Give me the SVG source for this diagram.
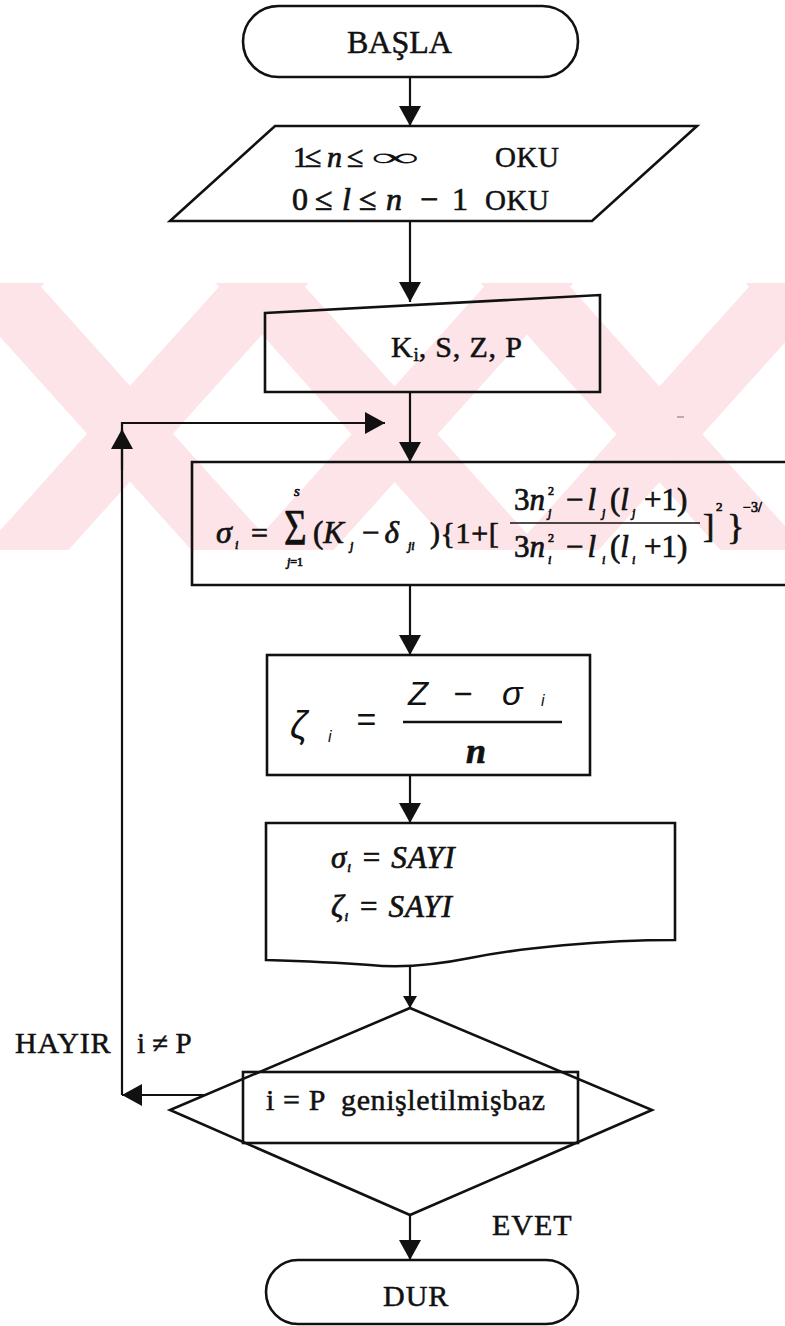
<svg xmlns="http://www.w3.org/2000/svg" width="785" height="1326" viewBox="0 0 785 1326">
<style>
.bg{fill:#ffffff}
.wm{stroke:#fde4e8;stroke-width:64;fill:none}
.shape{fill:none;stroke:#111;stroke-width:2.6;stroke-linejoin:miter}
.conn{fill:none;stroke:#111;stroke-width:2.2}
.t{font-family:"Liberation Serif","Times New Roman",serif;fill:#111;stroke:#111;stroke-width:0.5}
.m{font-family:"Liberation Serif","Times New Roman",serif;fill:#111;stroke:#111;stroke-width:0.7}
.it{font-style:italic}
.sans{font-family:"Liberation Sans",Arial,sans-serif;font-style:italic;fill:#111}
</style>
<defs>
<marker id="ah" viewBox="0 0 20 22" refX="20" refY="11" markerWidth="20" markerHeight="22" markerUnits="userSpaceOnUse" orient="auto">
<path d="M0,0 L20,11 L0,22 z" fill="#111"/>
</marker>
<marker id="ahs" viewBox="0 0 12 14" refX="12" refY="7" markerWidth="12" markerHeight="14" markerUnits="userSpaceOnUse" orient="auto">
<path d="M0,0 L12,7 L0,14 z" fill="#111"/>
</marker>
<clipPath id="wmclip"><rect x="0" y="283" width="785" height="267"/></clipPath>
</defs>
<rect class="bg" x="0" y="0" width="785" height="1326"/>
<g id="watermark" clip-path="url(#wmclip)">
<path class="wm" d="M-300,250 L-0,584 M-35,250 L265,584 M229,250 L529,584 M494,250 L794,584 M759,250 L1059,584"/>
<path class="wm" d="M31,250 L-269,584 M295,250 L-5,584 M560,250 L260,584 M825,250 L525,584 M1090,250 L790,584"/>
</g>
<g id="connectors">
<path class="conn" d="M410,77 V126" marker-end="url(#ah)"/>
<path class="conn" d="M410,221 V302" marker-end="url(#ah)"/>
<path class="conn" d="M410,392 V462" marker-end="url(#ah)"/>
<path class="conn" d="M410,585 V655" marker-end="url(#ah)"/>
<path class="conn" d="M410,775 V823" marker-end="url(#ah)"/>
<path class="conn" d="M410,966 V1008" marker-end="url(#ahs)"/>
<path class="conn" d="M410,1215 V1260" marker-end="url(#ah)"/>
<path class="conn" d="M205,1095 H122" marker-end="url(#ah)"/>
<path class="conn" d="M122,1095 V423 H385" marker-end="url(#ah)"/>
<path class="conn" d="M122,470 V429" marker-end="url(#ah)"/>
</g>
<g id="start">
<rect class="shape" x="243" y="6" width="335" height="71" rx="35.5" ry="35.5"/>
<text class="t" x="347" y="53" font-size="32">BAŞLA</text>
</g>
<g id="input">
<path class="shape" d="M275,126 L697,126 L592,221 L170,221 Z"/>
<text class="m" x="293 305 327 347" y="167" font-size="30">1≤<tspan class="it">n</tspan>≤</text>
<text x="371" y="166" font-size="26" textLength="48" lengthAdjust="spacingAndGlyphs" font-family="Liberation Serif, serif" fill="#111">∞</text>
<text class="t" x="495" y="167" font-size="29" letter-spacing="0.5">OKU</text>
<text class="m" x="292 315 342 359 386 420 452" y="210" font-size="32">0≤<tspan class="it">l</tspan>≤<tspan class="it">n</tspan>−1</text>
<text class="t" x="485" y="210" font-size="29" letter-spacing="0.5">OKU</text>
</g>
<g id="manual-input">
<path class="shape" d="M265,313 L600,295 L600,392 L265,392 Z"/>
<text class="t" x="391" y="357" font-size="30" letter-spacing="0.8">K<tspan font-size="19" dy="4" letter-spacing="0">i</tspan><tspan dy="-4">, S, Z, P</tspan></text>
</g>
<g id="sigma-formula">
<path class="shape" d="M800,462 H192 V585 H800"/>
<text class="m it" x="216" y="543" font-size="32">σ</text>
<text class="m it" x="235" y="549" font-size="12">i</text>
<text class="m" x="251" y="543" font-size="30">=</text>
<text class="m" transform="translate(284,544) scale(0.78,1)" font-size="50" stroke-width="0.4">Σ</text>
<text class="m it" x="294" y="496" font-size="15">s</text>
<text class="m" x="287" y="566" font-size="12"><tspan class="it">j</tspan>=1</text>
<text class="m" x="313" y="543" font-size="31">(<tspan class="it">K</tspan></text>
<text class="m it" x="350" y="550" font-size="12">j</text>
<text class="m" x="362" y="543" font-size="31">−<tspan class="it" dx="5">δ</tspan></text>
<text class="m it" x="408" y="550" font-size="12">ji</text>
<text class="m" x="430" y="543" font-size="30" letter-spacing="0.6">){1+[</text>
<text class="m" x="514" y="510" font-size="31">3<tspan class="it">n</tspan></text>
<text class="m" x="548" y="495" font-size="12">2</text>
<text class="m it" x="548" y="517" font-size="12">j</text>
<text class="m" x="566" y="510" font-size="31">−<tspan class="it" dx="4">l</tspan></text>
<text class="m it" x="602" y="517" font-size="12">j</text>
<text class="m" x="610" y="510" font-size="31">(<tspan class="it">l</tspan></text>
<text class="m it" x="632" y="517" font-size="12">j</text>
<text class="m" x="644" y="510" font-size="31">+1)</text>
<path d="M510,523 H700" stroke="#111" stroke-width="1.6"/>
<text class="m" x="514" y="557" font-size="31">3<tspan class="it">n</tspan></text>
<text class="m" x="548" y="542" font-size="12">2</text>
<text class="m it" x="548" y="564" font-size="12">i</text>
<text class="m" x="566" y="557" font-size="31">−<tspan class="it" dx="4">l</tspan></text>
<text class="m it" x="602" y="564" font-size="12">i</text>
<text class="m" x="610" y="557" font-size="31">(<tspan class="it">l</tspan></text>
<text class="m it" x="632" y="564" font-size="12">i</text>
<text class="m" x="644" y="557" font-size="31">+1)</text>
<text class="m" x="703" y="537" font-size="34">]</text>
<text class="m" x="716" y="511" font-size="13">2</text>
<text class="m" x="727" y="539" font-size="36">}</text>
<text class="m" x="743" y="512" font-size="14">−3/</text>
</g>
<g id="zeta-formula">
<rect class="shape" x="267" y="655" width="323" height="120"/>
<text class="sans" x="290" y="738" font-size="38">ζ</text>
<text class="sans" x="328" y="742" font-size="16">i</text>
<text class="sans" x="356" y="731" font-size="34">=</text>
<text class="sans" x="408" y="705" font-size="33">Z</text>
<text class="sans" x="453" y="705" font-size="33">−</text>
<text class="sans" x="502" y="705" font-size="34">σ</text>
<text class="sans" x="541" y="706" font-size="16">i</text>
<path d="M403,722 H562" stroke="#111" stroke-width="2.4"/>
<text class="m it" x="466" y="763" font-size="36" font-weight="bold">n</text>
</g>
<g id="output-doc">
<path class="shape" d="M266,823 H675 V940 C600,940 520,948 470,958 C430,966 400,968 370,965 C330,962 300,961 266,960 Z"/>
<text class="m it" x="331" y="868" font-size="31" letter-spacing="1">σ<tspan font-size="13" dy="4">i</tspan><tspan dy="-4"> = SAYI</tspan></text>
<text class="m it" x="331" y="917" font-size="31" letter-spacing="1">ζ<tspan font-size="13" dy="4">i</tspan><tspan dy="-4"> = SAYI</tspan></text>
</g>
<g id="decision">
<path class="shape" d="M410,1008 L652,1110 L410,1215 L170,1110 Z"/>
<rect class="shape" x="243" y="1072" width="335" height="71" fill="#fff"/>
<text class="t" x="266" y="1110" font-size="30" letter-spacing="0.6">i = P &#160;genişletilmişbaz</text>
</g>
<g id="labels">
<text class="t" x="15" y="1053" font-size="30" letter-spacing="0.8">HAYIR</text>
<text class="t" x="137" y="1053" font-size="29">i ≠ P</text>
<text class="t" x="492" y="1235" font-size="30" letter-spacing="1">EVET</text>
</g>
<g id="end">
<rect class="shape" x="266" y="1260" width="312" height="64" rx="32" ry="32"/>
<text class="t" x="383" y="1306" font-size="30" letter-spacing="1">DUR</text>
</g>
<path d="M677,417 H684" stroke="#777" stroke-width="1"/>
</svg>
